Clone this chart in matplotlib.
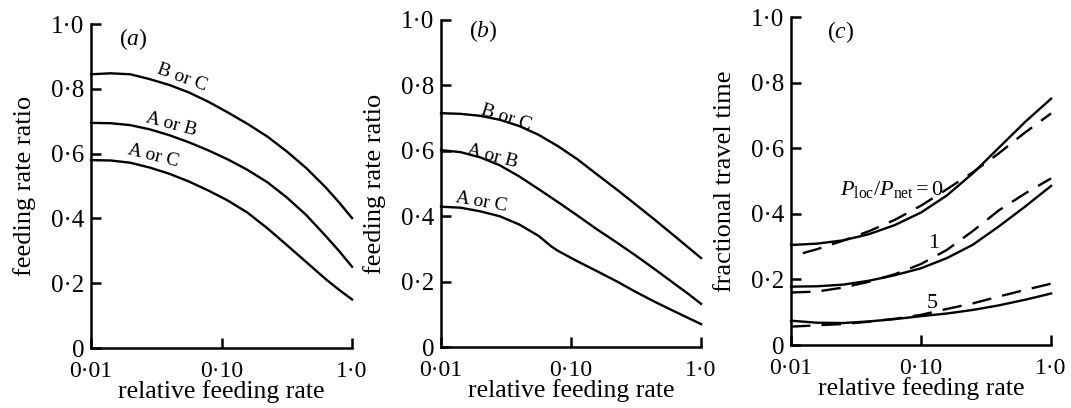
import matplotlib
matplotlib.use("Agg")
import matplotlib.pyplot as plt

plt.rcParams['font.family'] = ['Liberation Serif', 'DejaVu Serif']
plt.rcParams['mathtext.fontset'] = 'custom'
plt.rcParams['mathtext.rm'] = 'Liberation Serif'
plt.rcParams['mathtext.it'] = 'Liberation Serif:italic'
plt.rcParams['lines.scale_dashes'] = False

# ---------------- data ----------------
x_ab = [0.01, 0.0141, 0.02, 0.0282, 0.0398, 0.0562, 0.0794, 0.112, 0.158,
        0.224, 0.316, 0.447, 0.631, 0.794, 1.0]

a_BC = [0.845, 0.848, 0.845, 0.830, 0.812, 0.789, 0.760, 0.727, 0.692,
        0.653, 0.607, 0.555, 0.495, 0.450, 0.401]
a_AB = [0.695, 0.694, 0.688, 0.675, 0.657, 0.635, 0.610, 0.582, 0.550,
        0.512, 0.465, 0.410, 0.345, 0.300, 0.251]
a_AC = [0.580, 0.579, 0.572, 0.557, 0.538, 0.514, 0.486, 0.455, 0.418,
        0.370, 0.318, 0.265, 0.212, 0.180, 0.150]

b_BC = [0.715, 0.713, 0.707, 0.695, 0.676, 0.649, 0.614, 0.574, 0.528,
        0.482, 0.435, 0.387, 0.338, 0.305, 0.272]
b_AB = [0.602, 0.596, 0.580, 0.556, 0.522, 0.483, 0.443, 0.402, 0.360,
        0.320, 0.279, 0.236, 0.192, 0.163, 0.132]
x_b_AC = [0.01, 0.0141, 0.02, 0.0282, 0.0398, 0.0562, 0.0708, 0.0794, 0.112,
          0.158, 0.224, 0.316, 0.447, 0.631, 0.794, 1.0]
b_AC = [0.429, 0.426, 0.415, 0.400, 0.375, 0.340, 0.307, 0.294, 0.262,
        0.232, 0.201, 0.168, 0.137, 0.108, 0.089, 0.070]

x_c = [0.01, 0.0158, 0.0251, 0.0398, 0.0631, 0.1, 0.158, 0.251, 0.398, 0.631, 1.0]
x_c0_dash = [0.0123, 0.0158, 0.0251, 0.0398, 0.0631, 0.1, 0.158, 0.251, 0.398, 0.631, 1.0]
c0_solid = [0.305, 0.309, 0.319, 0.338, 0.366, 0.404, 0.456, 0.524, 0.602, 0.680, 0.751]
c0_dash = [0.280, 0.292, 0.318, 0.347, 0.382, 0.425, 0.475, 0.527, 0.585, 0.648, 0.706]
c1_solid = [0.178, 0.179, 0.184, 0.196, 0.213, 0.234, 0.265, 0.306, 0.362, 0.422, 0.485]
c1_dash = [0.160, 0.163, 0.175, 0.193, 0.216, 0.247, 0.290, 0.348, 0.411, 0.462, 0.508]
c5_solid = [0.074, 0.068, 0.067, 0.072, 0.079, 0.088, 0.096, 0.107, 0.121, 0.138, 0.157]
c5_dash = [0.056, 0.060, 0.064, 0.071, 0.080, 0.092, 0.110, 0.127, 0.148, 0.168, 0.187]

xticks = [0.01, 0.1, 1.0]
xticklabels = ['0·01', '0·10', '1·0']
yticks = [0, 0.2, 0.4, 0.6, 0.8, 1.0]
yticklabels = ['0', '0·2', '0·4', '0·6', '0·8', '1·0']

# ---------------- figure ----------------
fig = plt.figure(figsize=(10.71, 4.08), dpi=100)
ax_a = fig.add_axes([0.085, 0.147, 0.2437, 0.794])
ax_b = fig.add_axes([0.4118, 0.1495, 0.2428, 0.8015])
ax_c = fig.add_axes([0.7386, 0.1544, 0.2428, 0.8039])

TICK_FS = 17
LAB_FS = 18.5
LW = 1.7


def style(ax, ylabel):
    ax.set_xscale('log')
    ax.set_xlim(0.01, 1.0)
    ax.set_ylim(0, 1.0)
    for s in ('top', 'right'):
        ax.spines[s].set_visible(False)
    for s in ('left', 'bottom'):
        ax.spines[s].set_linewidth(1.8)
    ax.set_xticks(xticks)
    ax.set_xticklabels(xticklabels)
    ax.minorticks_off()
    ax.set_yticks(yticks)
    ax.set_yticklabels(yticklabels)
    ax.tick_params(direction='in', length=7, width=1.8)
    ax.tick_params(axis='x', pad=9, labelsize=TICK_FS)
    ax.tick_params(axis='y', pad=5, labelsize=TICK_FS + 1)
    ax.set_xlabel('relative feeding rate', fontsize=LAB_FS, labelpad=-1)
    ax.set_ylabel(ylabel, fontsize=LAB_FS + 0.5, labelpad=11)


# (a)
style(ax_a, 'feeding rate ratio')
for y in (a_BC, a_AB, a_AC):
    ax_a.plot(x_ab, y, color='black', lw=LW, clip_on=False)
ax_a.text(0.050, 0.835, 'B or C', fontsize=14, rotation=-20, ha='center', va='center')
ax_a.text(0.041, 0.690, 'A or B', fontsize=14, rotation=-15, ha='center', va='center')
ax_a.text(0.030, 0.592, 'A or C', fontsize=14, rotation=-14, ha='center', va='center')
ax_a.text(0.021, 0.955, r'($\mathit{a}$)', fontsize=17, ha='center', va='center')

# (b)
style(ax_b, 'feeding rate ratio')
ax_b.plot(x_ab, b_BC, color='black', lw=LW, clip_on=False)
ax_b.plot(x_ab, b_AB, color='black', lw=LW, clip_on=False)
ax_b.plot(x_b_AC, b_AC, color='black', lw=LW, clip_on=False)
ax_b.text(0.0316, 0.700, 'B or C', fontsize=14, rotation=-18, ha='center', va='center')
ax_b.text(0.025, 0.584, 'A or B', fontsize=14, rotation=-15, ha='center', va='center')
ax_b.text(0.0204, 0.443, 'A or C', fontsize=14, rotation=-10, ha='center', va='center')
ax_b.text(0.021, 0.965, r'($\mathit{b}$)', fontsize=17, ha='center', va='center')

# (c)
style(ax_c, 'fractional travel time')
DASH = (0, (14, 8))
ax_c.plot(x_c, c0_solid, color='black', lw=LW, clip_on=False)
ax_c.plot(x_c0_dash, c0_dash, color='black', lw=LW, ls=DASH, clip_on=False)
ax_c.plot(x_c, c1_solid, color='black', lw=LW, clip_on=False)
ax_c.plot(x_c, c1_dash, color='black', lw=LW, ls=DASH, clip_on=False)
ax_c.plot(x_c, c5_solid, color='black', lw=LW, clip_on=False)
ax_c.plot(x_c, c5_dash, color='black', lw=LW, ls=DASH, clip_on=False)
ax_c.text(0.0238, 0.473, r'$P_{\rm loc}/P_{\rm net} = 0$', fontsize=16, ha='left', va='center')
ax_c.text(0.124, 0.31, '1', fontsize=16, ha='center', va='center')
ax_c.text(0.122, 0.128, '5', fontsize=16, ha='center', va='center')
ax_c.text(0.024, 0.954, r'($\mathit{c}$)', fontsize=17, ha='center', va='center')

fig.savefig('out.png', dpi=100)
